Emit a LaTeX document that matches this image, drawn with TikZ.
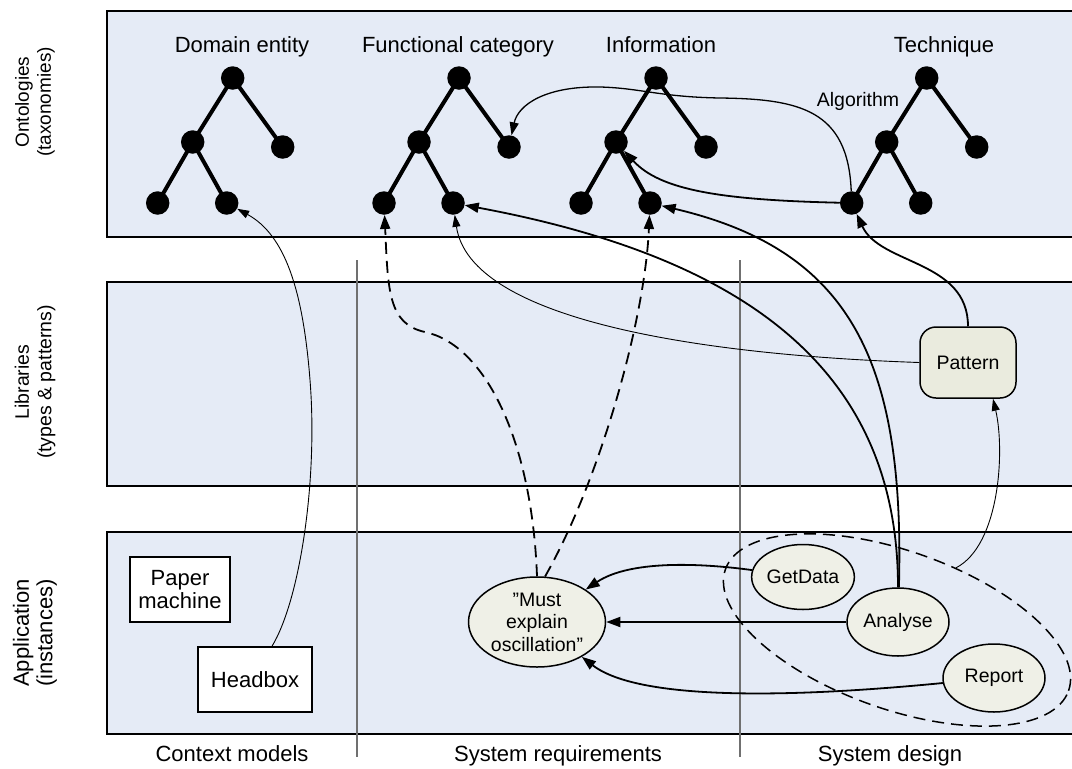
\documentclass[tikz,border=0pt]{standalone}
\usepackage{fontspec}
\setmainfont{Liberation Sans}
\usetikzlibrary{arrows.meta,shapes.geometric}

\definecolor{bandblue}{HTML}{E5EBF6}
\definecolor{taskfill}{HTML}{EFF0E7}
\definecolor{patfill}{HTML}{EAEBDE}
\definecolor{sepgray}{HTML}{707070}

% one taxonomy tree: #1 = name prefix, #2 = x of the root
\newcommand\ontree[2]{%
  \node[dot] (#1r) at (#2,78) {};
  \node[dot] (#1a) at (#2-40,142) {};
  \node[dot] (#1b) at (#2+50,147) {};
  \node[dot] (#1c) at (#2-75,203) {};
  \node[dot] (#1d) at (#2-6,203) {};
  \draw[branch] (#1r.center) -- (#1a.center);
  \draw[branch] (#1r.center) -- (#1b.center);
  \draw[branch] (#1a.center) -- (#1c.center);
  \draw[branch] (#1a.center) -- (#1d.center);
}

\begin{document}
\begin{tikzpicture}[x=1pt,y=-1pt,
  band/.style={draw=black, line width=1.6pt, fill=bandblue},
  sep/.style={draw=sepgray, line width=1.2pt},
  dot/.style={circle, fill=black, inner sep=0pt, minimum size=23.5pt},
  branch/.style={line width=4pt},
  big/.style={font=\fontsize{22}{23.5}\selectfont},
  small/.style={font=\fontsize{19.5}{22.5}\selectfont},
  layer/.style={rotate=90, align=center},
  link/.style={line width=1.8pt, -{Triangle[length=14pt,width=10pt]}},
  thinlink/.style={line width=0.9pt, -{Triangle[length=12pt,width=8pt]}},
  dashlink/.style={link, dash pattern=on 12pt off 7pt},
  task/.style={ellipse, draw, line width=1.5pt, fill=taskfill, small, inner sep=0pt, align=center},
  box/.style={draw, line width=1.5pt, fill=white, big, inner sep=0pt, align=center}]

\useasboundingbox (0,0) rectangle (1072,769);
\clip (0,0) rectangle (1072,769);

% layers
\draw[band] (107,11) rectangle (1085,237);
\draw[band] (107,282) rectangle (1085,486);
\draw[band] (107,532) rectangle (1085,734);

% column separators
\draw[sep] (357,260) -- (357,757);
\draw[sep] (740,260) -- (740,757);

% layer labels
\node[layer, font=\fontsize{19}{22}\selectfont] (lonto) at (35,102) {Ontologies\\(taxonomies)};
\node[layer, font=\fontsize{19.5}{22.5}\selectfont] (llib) at (35,382) {Libraries\\(types \& patterns)};
\node[layer, font=\fontsize{22}{23.5}\selectfont] (lapp) at (35,633) {Application\\(instances)};

% column labels
\node[big, anchor=base] (cctx) at (232,761) {Context models};
\node[big, anchor=base] (creq) at (558,761) {System requirements};
\node[big, anchor=base] (cdes) at (890,761) {System design};

% taxonomies
\node[big, anchor=base] (tdom) at (242,52) {Domain entity};
\node[big, anchor=base] (tfun) at (458,52) {Functional category};
\node[big, anchor=base] (tinf) at (661,52) {Information};
\node[big, anchor=base] (ttec) at (944,52) {Technique};
\ontree{d}{232.7}
\ontree{f}{459}
\ontree{i}{656}
\ontree{t}{926.7}
\node[small, anchor=base] (algo) at (858,106) {Algorithm};

% library pattern
\node[draw, line width=1.5pt, fill=patfill, rounded corners=16pt,
      minimum width=96pt, minimum height=71pt, small] (pat) at (968,362.5) {Pattern};

% application instances
\node[box, minimum width=100pt, minimum height=65pt] (pm) at (180,589.5) {Paper\\machine};
\node[box, minimum width=114pt, minimum height=65pt] (hb) at (255,679.5) {Headbox};

\node[draw, ellipse, line width=1.5pt, dash pattern=on 12pt off 7pt,
      minimum width=364pt, minimum height=158pt, rotate=-19.5] (grp) at (897,630) {};

\node[task, minimum width=137pt, minimum height=90pt] (must) at (537,622)
  {”Must\\explain\\oscillation”};
\node[task, minimum width=100pt, minimum height=65pt] (gd) at (803,577) {GetData};
\node[task, minimum width=102pt, minimum height=68pt] (an) at (898,622) {Analyse};
\node[task, minimum width=102pt, minimum height=68pt] (rp) at (994,678) {Report};

% connectors
\draw[thinlink] ([xshift=17pt]hb.north) .. controls (300,600) and (318,480) .. (310,380)
  .. controls (303,290) and (285,235) .. (dd);

\draw[dashlink] (must.north) .. controls (532,440) and (485,345) .. (425,332)
  .. controls (388,324) and (388,290) .. (fc);
\draw[dashlink] (must.80) .. controls (600,480) and (645,320) .. (id);

\draw[link] (an) .. controls (898,380) and (760,260) .. (fd);
\draw[link] (an) .. controls (905,360) and (850,250) .. (id);

\draw[link] (gd) .. controls (700,563) and (630,560) .. (must);
\draw[link] (an) -- (must);
\draw[link] (rp) .. controls (800,697) and (640,702) .. (must);

\draw[thinlink] (pat.west) .. controls (700,355) and (470,320) .. (fd);
\draw[link] (pat.north) .. controls (968,260) and (880,265) .. (tc);
\draw[thinlink] (grp.66) .. controls (1000,545) and (1005,450) .. ([xshift=25pt]pat.south);

\draw[link] (tc) .. controls (720,200) and (660,190) .. (ia);
\draw[line width=1.3pt, -{Triangle[length=13pt,width=9pt]}] (tc) .. controls (848,110) and (800,99) .. (720,98)
  .. controls (660,97) and (640,88) .. (600,87) .. controls (545,86) and (518,105) .. (fb);

\end{tikzpicture}
\end{document}
